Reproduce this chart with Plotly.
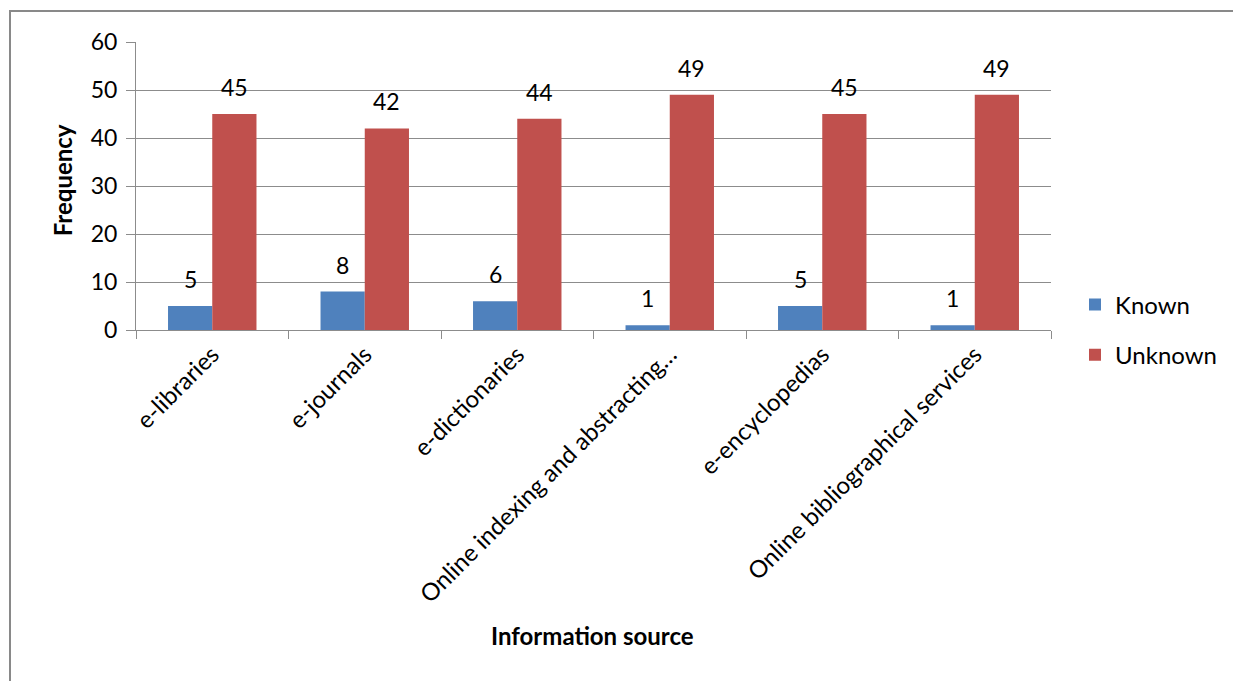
import plotly.graph_objects as go

categories = [
    "e-libraries",
    "e-journals",
    "e-dictionaries",
    "Online indexing and abstracting…",
    "e-encyclopedias",
    "Online bibliographical services",
]
known = [5, 8, 6, 1, 5, 1]
unknown = [45, 42, 44, 49, 45, 49]
y_ticks = [0, 10, 20, 30, 40, 50, 60]

FONT = "Lato, Carlito, Calibri, sans-serif"
BLUE = "#4F81BD"
RED = "#C0504D"
GRID = "#8C8C8C"
TEXT = "#000000"

W, H = 1233, 681
ML, MR, MT, MB = 136, 182, 42, 351
BARGAP = 0.42

fig = go.Figure()
fig.add_trace(go.Bar(x=categories, y=known, name="Known", marker_color=BLUE,
                     marker_line_width=0, legendgroup="k"))
fig.add_trace(go.Bar(x=categories, y=unknown, name="Unknown", marker_color=RED,
                     marker_line_width=0, legendgroup="u"))

# value labels above each bar
plot_w = W - ML - MR
plot_h = H - MT - MB
bar_px = plot_w / len(categories) * (1 - BARGAP) / 2
annotations = []
for series, shift in ((known, -bar_px / 2), (unknown, bar_px / 2)):
    for cat, val in zip(categories, series):
        annotations.append(dict(
            x=cat, y=val, xref="x", yref="y", text=str(val), showarrow=False,
            xshift=shift, yshift=27, yanchor="middle",
            font=dict(family=FONT, size=23, color=TEXT),
        ))

annotations.append(dict(
    x=(62 - ML) / plot_w, y=0.52, xref="paper", yref="paper",
    text="<b>Frequency</b>", textangle=-90, showarrow=False,
    xanchor="center", yanchor="middle",
    font=dict(family=FONT, size=24, color=TEXT),
))
annotations.append(dict(
    x=0.499, y=-1.061, xref="paper", yref="paper", text="<b>Information source</b>",
    showarrow=False, xanchor="center", yanchor="middle",
    font=dict(family=FONT, size=24, color=TEXT),
))

fig.update_layout(
    width=W, height=H,
    margin=dict(l=ML, r=MR, t=MT, b=MB, autoexpand=False),
    paper_bgcolor="white", plot_bgcolor="white",
    barmode="group", bargap=BARGAP, bargroupgap=0,
    font=dict(family=FONT, size=24, color=TEXT),
    showlegend=True,
    legend=dict(
        x=(1075 - ML) / plot_w, y=0.0, xanchor="left", yanchor="middle",
        traceorder="grouped", tracegroupgap=16,
        font=dict(family=FONT, size=24, color=TEXT),
        itemwidth=30,
    ),
    annotations=annotations,
    shapes=[dict(
        type="rect", xref="paper", yref="paper",
        x0=(10 - ML) / plot_w, x1=1.5,
        y0=-2.0, y1=1 + (MT - 11) / plot_h,
        line=dict(color="#898989", width=2), fillcolor="rgba(0,0,0,0)",
        layer="below",
    )],
)

fig.update_xaxes(
    type="category", tickangle=-45, ticks="outside", tickson="boundaries",
    ticklen=8, tickcolor=GRID, showline=True, linecolor=GRID, linewidth=1,
    showgrid=False, tickfont=dict(family=FONT, size=24, color=TEXT),
)
fig.update_yaxes(
    range=[0, 60], tickvals=y_ticks, ticks="outside", ticklen=9, tickcolor=GRID,
    showline=True, linecolor=GRID, linewidth=1, showgrid=True, gridcolor=GRID,
    gridwidth=1, zeroline=False, ticklabelstandoff=4,
    tickfont=dict(family=FONT, size=23, color=TEXT),
)

fig.write_html("out.html")
